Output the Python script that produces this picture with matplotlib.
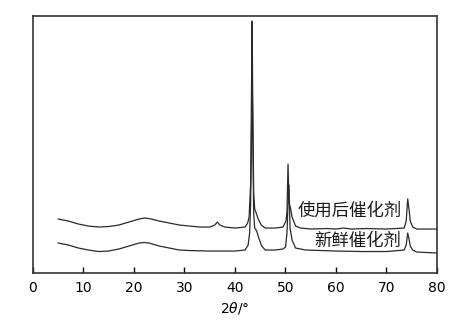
import matplotlib.pyplot as plt
import numpy as np

plt.rcParams['font.family'] = ['DejaVu Sans', 'Noto Sans CJK SC']

# 2theta (deg) and intensity (a.u.)
x_used = [5, 7, 9, 11, 13, 15, 17, 19, 21, 22, 23, 25, 27, 29, 31, 33, 35, 36, 36.5, 37, 38,
          40, 42.0, 42.5, 42.8, 43.1, 43.3, 43.4, 43.5, 43.7, 43.9, 44.2, 44.6, 45.2, 46, 48,
          49.5, 50.1, 50.3, 50.5, 50.7, 51.0, 51.3, 52, 53, 55, 58, 60, 61.5, 63, 66, 70,
          73.5, 73.9, 74.2, 74.5, 74.7, 75.2, 76, 78, 80]
y_used = [54, 52, 49, 47, 46, 46.5, 48, 51, 54, 55, 54.5, 52, 50, 48, 47, 46, 46, 48, 51, 48, 46,
          45, 46, 50, 56, 90, 200, 252, 180, 80, 64, 60, 54, 48, 45, 45,
          46, 52, 62, 109, 70, 65, 56, 47, 45, 44, 44.5, 44, 45, 44, 44.5, 44,
          45, 52, 74, 62, 52, 46, 44, 44, 44]

x_fresh = [5, 7, 9, 11, 13, 15, 17, 19, 21, 22, 23, 25, 27, 29, 31, 35, 38, 40, 42.0, 42.6,
           42.9, 43.1, 43.3, 43.4, 43.5, 43.7, 43.9, 44.3, 44.7, 45.3, 46, 48, 49.5, 50.0, 50.3,
           50.5, 50.7, 50.9, 51.3, 52, 54, 57, 60, 65, 70, 73.5, 73.9, 74.2, 74.5, 74.7, 75.2,
           76, 78, 80]
y_fresh = [30, 28, 25, 23, 21.5, 22, 24, 27, 30, 30.5, 30, 27, 25, 23, 22.5, 22, 22, 22, 23, 28,
           40, 70, 150, 198, 150, 60, 45, 42, 35, 27, 23, 23, 24, 26, 40,
           70, 88, 45, 33, 25, 23, 22.5, 22, 21.5, 21.5, 23, 28, 40, 33, 27, 23,
           21, 20.5, 20]

fig = plt.figure(figsize=(4.6, 3.35), dpi=100)
ax = fig.add_axes([0.0717, 0.185, 0.8783, 0.767])

ax.plot(x_used, y_used, color='#2a2a2a', lw=0.9)
ax.plot(x_fresh, y_fresh, color='#2a2a2a', lw=0.9)

ax.text(73.0, 62, '使用后催化剂', ha='right', va='center', fontsize=12.5,
        family=['Noto Sans CJK SC'], color='#1a1a1a')
ax.text(73.0, 32, '新鲜催化剂', ha='right', va='center', fontsize=12.5,
        family=['Noto Sans CJK SC'], color='#1a1a1a')

ax.set_xlim(0, 80)
ax.set_ylim(0, 257)
ax.set_xticks(np.arange(0, 81, 10))
ax.set_yticks([])
ax.tick_params(axis='x', direction='in', length=4, width=1, labelsize=10, pad=6)
for sp in ax.spines.values():
    sp.set_linewidth(1.2)
    sp.set_color('#333333')

ax.set_xlabel(r'2$\theta$/°', fontsize=10, labelpad=3)

plt.savefig('out.png', dpi=100)
